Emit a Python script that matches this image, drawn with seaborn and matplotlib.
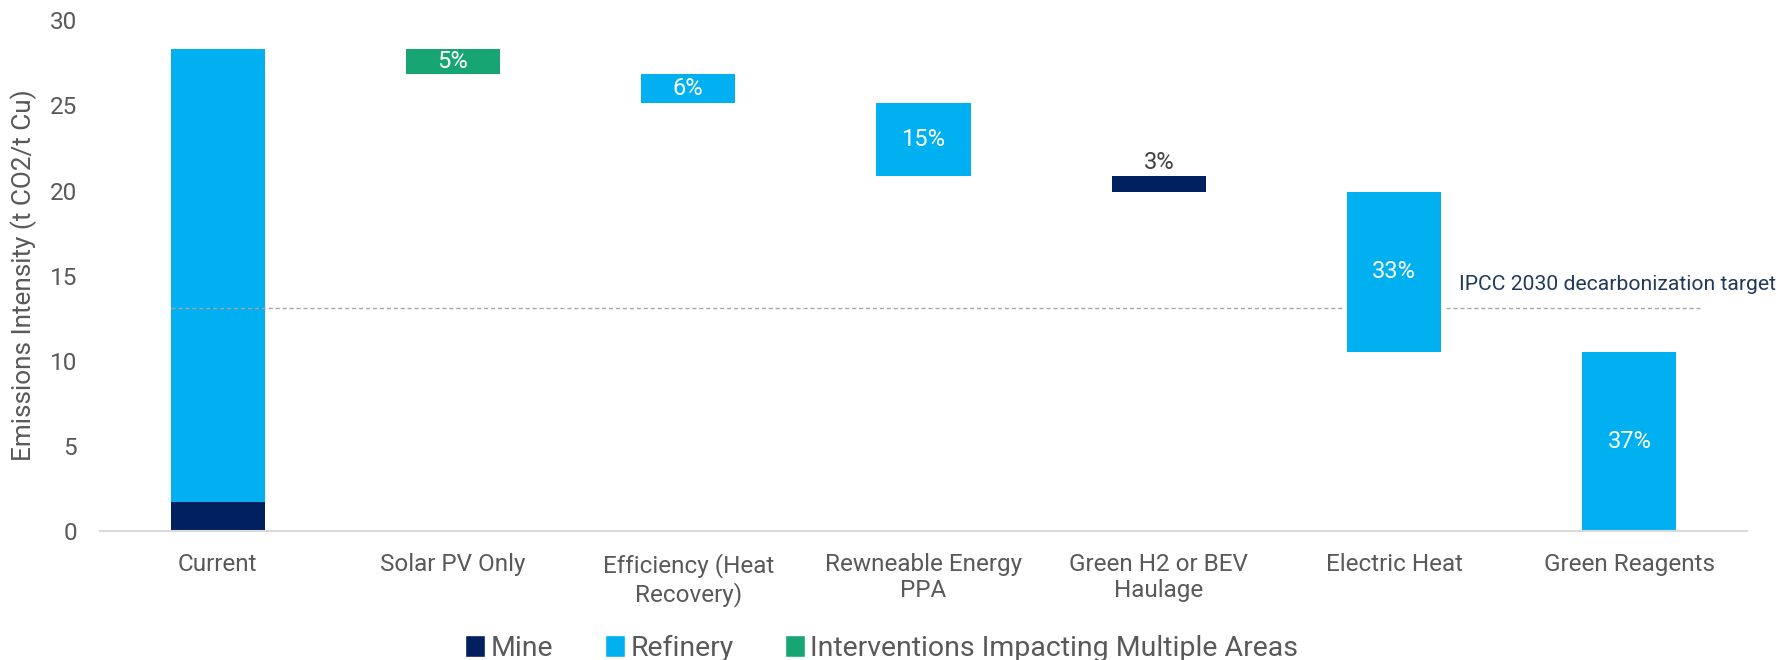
import matplotlib
matplotlib.use("Agg")
import matplotlib.pyplot as plt
from matplotlib.patches import Patch
import numpy as np
import pandas as pd
import seaborn as sns

# Waterfall steps (t CO2 / t Cu)
categories = ["Current", "Solar PV Only", "Efficiency (Heat\nRecovery)",
              "Rewneable Energy\nPPA", "Green H2 or BEV\nHaulage",
              "Electric Heat", "Green Reagents"]
current_mine = 1.67
current_refinery = 26.63
reductions = [1.47, 1.70, 4.27, 0.93, 9.40, 10.53]
reduction_area = ["Multi", "Refinery", "Refinery", "Mine", "Refinery", "Refinery"]
target_value = 13.1
target_label = "IPCC 2030 decarbonization target"

area_colors = {"Mine": "#00205F", "Refinery": "#00B0F0", "Multi": "#17A673"}
legend_names = {"Mine": "Mine", "Refinery": "Refinery",
                "Multi": "Interventions Impacting Multiple Areas"}

total = current_mine + current_refinery
tops, bases = [total], [0.0]
level = total
for r in reductions:
    tops.append(level)
    level -= r
    bases.append(level)

df = pd.DataFrame({
    "cat": categories,
    "top": tops,
    "base": bases,
    "area": ["Refinery"] + reduction_area,
})
palette = {c: area_colors[a] for c, a in zip(df["cat"], df["area"])}

sns.set_theme(style="white")
plt.rcParams["font.family"] = ["Roboto", "DejaVu Sans"]

fig = plt.figure(figsize=(17.85, 6.6), dpi=100)
ax = fig.add_axes([0.056, 0.196, 0.9227, 0.773])

bw = 0.4
sns.barplot(data=df, x="cat", y="top", hue="cat", palette=palette, order=categories,
            hue_order=categories, width=bw, saturation=1, legend=False, ax=ax,
            linewidth=0, zorder=2)
# mask the part below each floating step
sns.barplot(data=df, x="cat", y="base", color="white", order=categories, width=bw,
            saturation=1, ax=ax, linewidth=0, zorder=3)
# mine share of the current footprint
mine_df = pd.DataFrame({"cat": categories, "v": [current_mine] + [np.nan] * 6})
sns.barplot(data=mine_df, x="cat", y="v", color=area_colors["Mine"], order=categories,
            width=bw, saturation=1, ax=ax, linewidth=0, zorder=4)

# target line, broken around the Electric Heat step
gap = 0.02
ei = categories.index("Electric Heat")
ax.hlines(target_value, -bw / 2, ei - bw / 2 - gap, colors="#A6A6A6",
          linestyles=(0, (3, 2)), linewidth=1, zorder=5)
ax.hlines(target_value, ei + bw / 2 + gap, 6.3, colors="#A6A6A6",
          linestyles=(0, (3, 2)), linewidth=1, zorder=5)
ax.text(5.95, target_value + 1.4, target_label, ha="center", va="center",
        fontsize=15.2, color="#1F3A5A", zorder=6)

# percentage labels
for i, r in enumerate(reductions, start=1):
    pct = f"{round(r / total * 100):d}%"
    if r < 1.2:
        ax.text(i, tops[i] + 0.1, pct, ha="center", va="bottom",
                fontsize=17, color="#404040", zorder=6)
    else:
        ax.text(i, (tops[i] + bases[i]) / 2, pct, ha="center", va="center",
                fontsize=17, color="white", zorder=6)

ax.set_xlim(-0.5, 6.5)
ax.set_ylim(0, 30)
ax.set_yticks(range(0, 31, 5))
ax.set_xlabel("")
ax.set_ylabel("Emissions Intensity (t CO2/t Cu)", fontsize=18.8, color="#595959", labelpad=9)
ax.tick_params(axis="both", length=0, labelsize=17.5, labelcolor="#595959")
ax.tick_params(axis="y", pad=16.5)
ax.tick_params(axis="x", pad=16)

for s in ["top", "right", "left"]:
    ax.spines[s].set_visible(False)
ax.spines["bottom"].set_color("#D9D9D9")
ax.spines["bottom"].set_linewidth(1.5)
ax.spines["bottom"].set_zorder(10)

handles = [Patch(facecolor=area_colors[k], label=legend_names[k]) for k in ["Mine", "Refinery", "Multi"]]
fig.legend(handles=handles, loc="center", bbox_to_anchor=(0.494, 0.018), ncol=3,
           frameon=False, fontsize=20.5, handlelength=0.7, handleheight=0.8,
           handletextpad=0.2, columnspacing=1.8, labelcolor="#595959")

fig.savefig("out.png", dpi=100)
